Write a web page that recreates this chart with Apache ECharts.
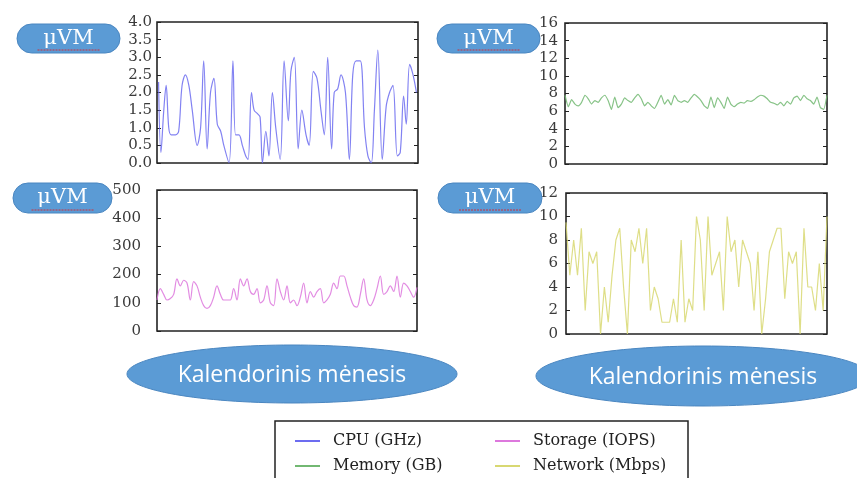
<!DOCTYPE html>
<html><head><meta charset="utf-8">
<script src="https://cdn.jsdelivr.net/npm/echarts@6/dist/echarts.min.js"></script>
<style>html,body{margin:0;padding:0;background:#fff}#c{width:857px;height:478px}</style>
</head><body><div id="c"></div>
<script>
// ---- data ----
const cpuT = [0.6,1.5,2.6,3.5,4.5,5.4,7.1,8.3,9.6,10.9,12.2,13.5,15.4,16.7,17.9,19.2,20.5,21.8,23.1,24.4,25.6,27.6,29.1,30.1,31.4,32.7,34.0,34.9,36.2,37.2,38.5,39.5,40.4,41.7,42.9,44.2,45.5,47.2,48.7,50.3,51.3,52.6,54.1,55.5,57.1,58.3,59.9,61.3,62.8,64.1,65.4,66.9,67.9,69.2,70.5,72.2,73.7,75.0,76.3,77.9,79.5,80.8,82.1,83.3,84.6,86.3,87.8,89.1,90.4,92.1,93.2,94.5,95.5,96.8,98.1,99.4];
const cpuGHz = [2.3,0.3,1.5,2.2,1.0,0.8,0.8,0.9,2.2,2.5,2.2,1.5,0.5,1.0,2.9,0.4,2.0,2.4,1.1,0.9,0.5,0.0,2.9,0.8,0.8,0.5,0.2,0.1,2.0,1.5,1.4,1.3,0.0,0.9,0.2,2.0,1.0,0.1,2.9,1.2,2.6,3.0,0.4,1.5,0.8,0.5,2.6,2.4,1.5,0.8,3.0,0.4,2.0,2.1,2.5,2.0,0.1,2.5,2.9,2.9,1.0,0.2,0.0,1.5,3.2,0.1,1.6,2.0,2.2,0.2,0.3,1.9,1.1,2.8,2.5,2.0];
const memoryGB = [7.8,6.5,7.3,6.8,6.6,7.0,7.8,7.4,6.8,7.2,7.0,7.5,7.8,7.2,6.2,7.6,6.4,6.8,7.5,7.2,7.0,7.5,7.9,7.4,6.6,7.0,6.6,6.3,7.0,7.8,6.8,7.3,6.7,7.8,7.2,7.0,7.2,7.0,7.5,7.9,7.6,7.2,6.6,6.3,7.6,6.4,7.5,7.0,6.3,7.6,6.8,6.5,6.8,7.0,6.9,7.2,7.1,7.3,7.6,7.8,7.7,7.4,7.0,6.9,6.7,7.0,6.6,7.1,6.8,7.5,7.7,7.2,7.8,7.4,7.2,6.8,7.6,6.4,6.2,7.8];
const storageIOPS = [110,150,130,110,115,130,185,160,180,170,110,175,160,120,90,80,90,120,160,130,110,110,110,150,110,185,160,185,140,130,150,100,110,160,100,90,185,140,110,160,100,110,90,120,170,100,140,120,140,150,100,110,130,170,150,195,195,160,120,90,85,130,185,110,90,110,150,195,130,140,160,140,195,120,170,160,140,120,155];
const networkMbps = [9.5,5,8,5,9,2,7,6,7,0,4,1,5,8,9,4,0,8,7,9,6,9,2,4,3,1,1,1,3,1,8,1,3,2,10,8,2,10,5,6,7,2,10,7,8,4,8,7,6,2,7,0,3,7,8,9,9,3,7,6,7,0,9,4,4,2,6,2,10];
const names = ['CPU (GHz)','Memory (GB)','Storage (IOPS)','Network (Mbps)'];
const colors = ['#6c6cf0','#72b872','#dd78dd','#d8d872'];
const yTicks = [{max:4,step:0.5,dec:1},{max:16,step:2,dec:0},{max:500,step:100,dec:0},{max:12,step:2,dec:0}];
const yLabel = 'μVM';
const xLabel = 'Kalendorinis mėnesis';

const grids = [
  {left:157, top:22, width:261, height:141},
  {left:565, top:23, width:262, height:141},
  {left:157, top:190, width:260, height:141},
  {left:566, top:193, width:261, height:141}
];
const labelMargins = [5,7,16,8];
const serif = 'DejaVu Serif';

const chart = echarts.init(document.getElementById('c'));
const xAxis = [], yAxis = [], series = [];
const seriesData = [cpuT.map((t,i)=>[t,cpuGHz[i]]), memoryGB, storageIOPS, networkMbps];
grids.forEach((g,i)=>{
  if (i===0) {
    xAxis.push({type:'value', gridIndex:i, min:0, max:100, axisLine:{show:false}, axisTick:{show:false}, axisLabel:{show:false}, splitLine:{show:false}});
  } else {
    xAxis.push({type:'category', gridIndex:i, boundaryGap:false, data:seriesData[i].map((_,k)=>k+1), axisLine:{show:false}, axisTick:{show:false}, axisLabel:{show:false}, splitLine:{show:false}});
  }
  const yt = yTicks[i];
  const common = {type:'value', gridIndex:i, min:0, max:yt.max, interval:yt.step, splitLine:{show:false},
    axisLine:{show:false}, axisTick:{show:true, inside:true, length:4, lineStyle:{color:'#222', width:1}}};
  yAxis.push(Object.assign({}, common, {position:'left',
    axisLabel:{margin:labelMargins[i], fontFamily:serif, fontSize:15, color:'#3a3a3a', formatter:v=>v.toFixed(yt.dec)}}));
  yAxis.push(Object.assign({}, common, {position:'right', axisLabel:{show:false}}));
  series.push({type:'line', name:names[i], xAxisIndex:i, yAxisIndex:i*2, data:seriesData[i],
    showSymbol:false, symbol:'none', smooth:(i===0||i===2)?0.35:(i===1?0.15:false),
    lineStyle:{color:colors[i], width:1.2, opacity:0.85}, itemStyle:{color:colors[i]}});
});

const badgeBoxes = [[17,24,103,29],[437,24,103,29],[13,183,99,30],[438,183,104,30]];
const graphic = [];
badgeBoxes.forEach(b=>{
  graphic.push({type:'rect', shape:{x:b[0],y:b[1],width:b[2],height:b[3],r:b[3]/2}, style:{fill:'#5b9bd5', stroke:'#4a86c0', lineWidth:1}, z:10});
  graphic.push({type:'text', x:b[0]+b[2]/2, y:b[1]+b[3]/2, style:{text:yLabel, fill:'#fff', font:'21px "DejaVu Serif"', align:'center', verticalAlign:'middle'}, z:11});
  graphic.push({type:'line', shape:{x1:b[0]+b[2]/2-31,y1:b[1]+b[3]-3,x2:b[0]+b[2]/2+31,y2:b[1]+b[3]-3}, style:{stroke:'#d0303a', lineWidth:1.2, lineDash:[2,1]}, z:12});
});
[[292,374,165,29],[703,376,167,30]].forEach(e=>{
  graphic.push({type:'ellipse', shape:{cx:e[0],cy:e[1],rx:e[2],ry:e[3]}, style:{fill:'#5b9bd5', stroke:'#4a86c0', lineWidth:1}, z:10});
  graphic.push({type:'text', x:e[0], y:e[1]+1, style:{text:xLabel, fill:'#fff', font:'23px "Open Sans"', align:'center', verticalAlign:'middle'}, z:11});
});
graphic.push({type:'rect', shape:{x:275,y:421,width:413,height:70}, style:{fill:'#fff', stroke:'#222', lineWidth:1.5}, z:1});

const legendPos = [[290,428],[290,453],[490,428],[490,453]];
const legend = names.map((n,i)=>({orient:'horizontal', left:legendPos[i][0], top:legendPos[i][1], data:[n],
  itemWidth:25, itemHeight:2, icon:'rect', textStyle:{fontFamily:serif, fontSize:16, color:'#222', padding:[0,0,0,8]}, z:20}));
chart.setOption({
  animation:false,
  grid: grids.map(g=>Object.assign({show:true, borderColor:'#222', borderWidth:1.6, backgroundColor:'#fff'}, g)),
  xAxis, yAxis, series, graphic, legend
});
</script></body></html>
